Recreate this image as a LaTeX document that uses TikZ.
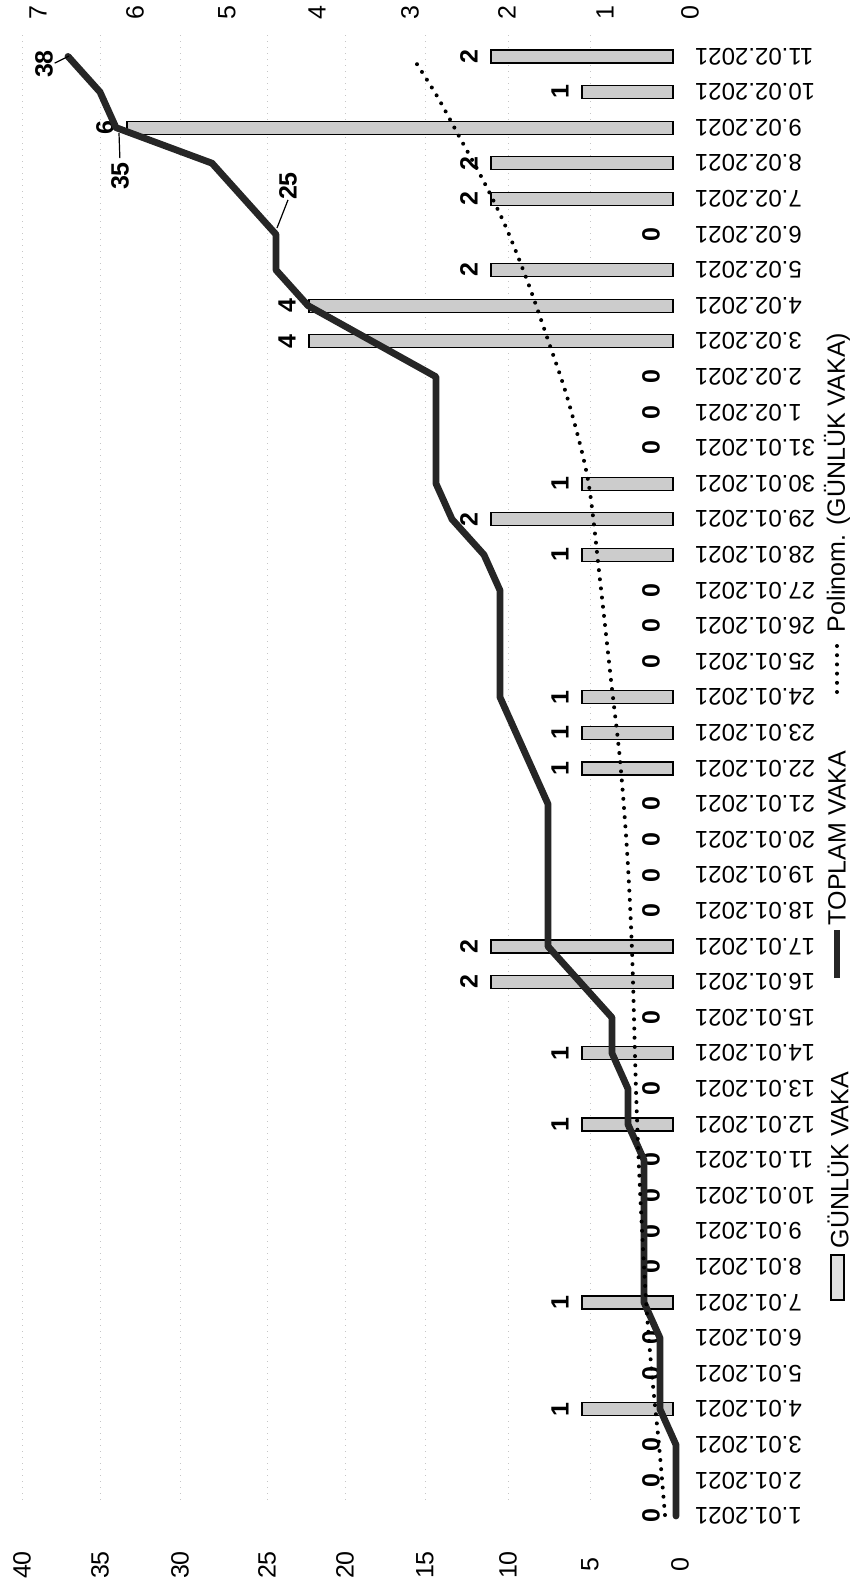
\documentclass[tikz,border=0pt]{standalone}
\usepackage{fontspec}
\setmainfont{Liberation Sans}
\begin{document}
\begin{tikzpicture}[x=0.5pt,y=-0.5pt,
  every node/.style={inner sep=0pt, outer sep=0pt},
  ticklab/.style={rotate=90, font=\fontsize{12.5}{15}\selectfont},
  datelab/.style={rotate=180, anchor=east, font=\fontsize{12}{14}\selectfont},
  vallab/.style={rotate=90, font=\fontsize{12.5}{15}\selectfont\bfseries},
  barbox/.style={draw=black, line width=0.6pt, fill=gray!40},
  cumline/.style={line width=3.4pt, draw=black!85, line join=round, line cap=round},
  trendline/.style={line width=2pt, dash pattern=on 0pt off 4.6pt, line cap=round},
  gridline/.style={gray!45, line width=0.4pt, dash pattern=on 0.5pt off 2.5pt},
  leader/.style={line width=0.6pt},
  legtext/.style={rotate=90, anchor=west, font=\fontsize{12.5}{15}\selectfont},
]
\useasboundingbox (0,0) rectangle (865,1587);

% faint gridlines
\foreach \x in {22,100,180,267,345,425,508,590}
  \draw[gridline] (\x,35) -- (\x,1500);

% axis tick labels
\foreach \v/\x in {0/690,1/605,2/507,3/410,4/317,5/227,6/135,7/38}
  \node[ticklab] (dt\v) at (\x,13) {\v};
\foreach \v/\x in {0/680,5/590,10/508,15/425,20/345,25/267,30/180,35/100,40/22}
  \node[ticklab] (ct\v) at (\x,1565) {\v};

% date labels
\foreach \d in {1,...,31}{
  \pgfmathtruncatemacro\t{\d-1}
  \node[datelab] (date\t) at (695,1516-35.6*\t) {\d.01.2021};
}
\foreach \d in {1,...,11}{
  \pgfmathtruncatemacro\t{\d+30}
  \node[datelab] (date\t) at (695,1516-35.6*\t) {\d.02.2021};
}

% bars and value labels
\foreach \v [count=\i from 0] in {0,0,0,1,0,0,1,0,0,0,0,1,0,1,0,2,2,0,0,0,0,1,1,1,0,0,0,1,2,1,0,0,0,4,4,2,0,2,2,6,1,2}{
  \pgfmathsetmacro\yy{1516-35.6*\i}
  \pgfmathsetmacro\xx{673-91*\v}
  \ifnum\v>0 \draw[barbox] (\xx,\yy-6.5) rectangle (673,\yy+6.5); \fi
  \node[vallab] (val\i) at (\xx-22,\yy) {\v};
}

% cumulative points
\foreach \c [count=\i from 0] in {0,0,0,1,1,1,2,2,2,2,2,3,3,4,4,6,8,8,8,8,8,9,10,11,11,11,11,12,14,15,15,15,15,19,23,25,25,27,29,35,36,38}{
  \coordinate (c\i) at (676-16*\c,1516-35.6*\i);
}
\draw[cumline] (c0) \foreach \i in {1,...,41}{ -- (c\i) };

% polynomial trend
\draw[trendline] plot[smooth] coordinates {(665,1515) (659,1445) (652,1375) (646,1300) (640,1190) (636,1090) (632,950) (627,850) (620,760) (611,680) (600,580) (588,480) (568,400) (548,340) (527,280) (505,225) (483,180) (460,138) (437,96) (413,58)};

% cumulative labels with leaders
\node[vallab] (l25) at (288,186) {25};
\coordinate (p25) at (277,228);
\draw[leader] (l25.west) -- (p25);
\node[vallab] (l35) at (120,176) {35};
\coordinate (p35) at (119,133);
\draw[leader, shorten <=2pt] (l35.east) -- (p35);
\node[vallab] (l38) at (44,64) {38};
\coordinate (p38) at (69,56);
\draw[leader, shorten <=1pt] (l38.south) -- (p38);

% legend
\draw[barbox, fill=gray!25] (831,1255) rectangle (844,1300);
\node[legtext] (lg1) at (838,1248) {GÜNLÜK VAKA};
\coordinate (lg2a) at (837,978);
\coordinate (lg2b) at (837,930);
\draw[cumline, line cap=butt] (lg2a) -- (lg2b);
\node[legtext] (lg2) at (837,925) {TOPLAM VAKA};
\coordinate (lg3a) at (837,692);
\coordinate (lg3b) at (837,640);
\draw[trendline] (lg3a) -- (lg3b);
\node[legtext] (lg3) at (837,632) {Polinom. (GÜNLÜK VAKA)};
\end{tikzpicture}
\end{document}
